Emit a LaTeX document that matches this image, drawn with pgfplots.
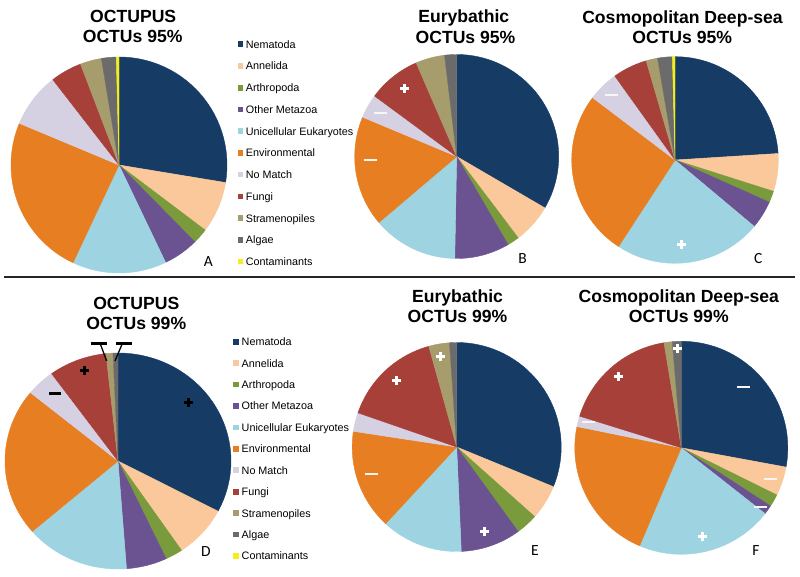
\documentclass[border=0pt]{standalone}
\usepackage{pgfplots}
\usepackage{pgfplotstable}
\pgfplotsset{compat=1.18}
\usepackage{fontspec}
\setmainfont{Liberation Sans}
\newfontfamily\labelfont{Carlito}

\definecolor{cNematoda}{RGB}{22,60,102}
\definecolor{cAnnelida}{RGB}{250,200,155}
\definecolor{cArthropoda}{RGB}{122,155,60}
\definecolor{cOtherMetazoa}{RGB}{107,82,145}
\definecolor{cUnicellular}{RGB}{158,211,226}
\definecolor{cEnvironmental}{RGB}{232,126,34}
\definecolor{cNoMatch}{RGB}{213,208,226}
\definecolor{cFungi}{RGB}{168,64,58}
\definecolor{cStramenopiles}{RGB}{166,156,108}
\definecolor{cAlgae}{RGB}{107,107,107}
\definecolor{cContaminants}{RGB}{245,238,26}

% percentages of OCTUs per category
\pgfplotstableread{
cat val
Nematoda 27.6
Annelida 7.7
Arthropoda 2.3
OtherMetazoa 5.3
Unicellular 14.1
Environmental 24.3
NoMatch 8.2
Fungi 4.7
Stramenopiles 3.2
Algae 2.2
Contaminants 0.4
}\tabA
\pgfplotstableread{
cat val
Nematoda 33.4
Annelida 6.3
Arthropoda 1.9
OtherMetazoa 8.7
Unicellular 13.5
Environmental 17.5
NoMatch 3.8
Fungi 8.4
Stramenopiles 4.6
Algae 1.9
}\tabB
\pgfplotstableread{
cat val
Nematoda 24.0
Annelida 5.9
Arthropoda 1.8
OtherMetazoa 4.4
Unicellular 23.1
Environmental 26.1
NoMatch 4.8
Fungi 5.4
Stramenopiles 1.8
Algae 2.3
Contaminants 0.4
}\tabC
\pgfplotstableread{
cat val
Nematoda 32.7
Annelida 7.8
Arthropoda 2.5
OtherMetazoa 5.8
Unicellular 14.9
Environmental 22.2
NoMatch 4.1
Fungi 8.3
Stramenopiles 1.0
Algae 0.7
}\tabD
\pgfplotstableread{
cat val
Nematoda 31.2
Annelida 5.4
Arthropoda 3.4
OtherMetazoa 9.3
Unicellular 12.6
Environmental 15.5
NoMatch 2.9
Fungi 15.4
Stramenopiles 3.2
Algae 1.1
}\tabE
\pgfplotstableread{
cat val
Nematoda 27.9
Annelida 4.4
Arthropoda 1.9
OtherMetazoa 1.4
Unicellular 20.8
Environmental 21.8
NoMatch 1.6
Fungi 17.6
Stramenopiles 1.25
Algae 1.35
}\tabF

\newcommand\drawpie[1]{%
  \gdef\piestart{0}%
  \pgfplotstablegetrowsof{#1}%
  \pgfmathtruncatemacro\pienrows{\pgfplotsretval-1}%
  \pgfplotsforeachungrouped \pierow in {0,...,\pienrows}{%
    \pgfplotstablegetelem{\pierow}{val}\of{#1}\let\pieval\pgfplotsretval
    \pgfplotstablegetelem{\pierow}{cat}\of{#1}\let\piecat\pgfplotsretval
    \pgfmathsetmacro\pieend{\piestart+3.6*\pieval}%
    \edef\pietmp{\noexpand\addplot[fill=c\piecat,draw=c\piecat,line width=0.4pt,domain=\piestart:\pieend,samples=60] ({sin(x)},{cos(x)}) -- (axis cs:0,0) -- cycle;}%
    \pietmp
    \xdef\piestart{\pieend}%
  }%
}

\pgfplotsset{mypie/.style={anchor=center, scale only axis, xmin=-1, xmax=1, ymin=-1, ymax=1, hide axis, clip=false}}

\newcommand\titlefont{\fontsize{17.6}{20}\selectfont\bfseries}
\newcommand\legfont{\fontsize{10.8}{12}\selectfont}
\newcommand\pmark[3][white]{\draw[#1,line width=3pt] (#2-4.5,#3) -- (#2+4.5,#3) (#2,#3-4.5) -- (#2,#3+4.5);}
\newcommand\mmark[3][white!93!gray]{\draw[#1,line width=2.2pt] (#2-6.5,#3) -- (#2+6.5,#3);}

\begin{document}
\begin{tikzpicture}
\useasboundingbox (0,0) rectangle (800pt,-577pt);

\begin{axis}[mypie, at={(119pt,-165pt)}, width=216pt, height=216pt]
\drawpie{\tabA}
\end{axis}
\begin{axis}[mypie, at={(456.7pt,-156.5pt)}, width=204pt, height=204pt]
\drawpie{\tabB}
\end{axis}
\begin{axis}[mypie, at={(675pt,-160pt)}, width=206.6pt, height=206.6pt]
\drawpie{\tabC}
\end{axis}
\begin{axis}[mypie, at={(118pt,-461pt)}, width=226pt, height=216pt]
\drawpie{\tabD}
\end{axis}
\begin{axis}[mypie, at={(456.7pt,-447pt)}, width=209pt, height=209pt]
\drawpie{\tabE}
\end{axis}
\begin{axis}[mypie, at={(681.3pt,-447.8pt)}, width=213pt, height=213pt]
\drawpie{\tabF}
\end{axis}

\begin{scope}[x=1pt,y=-1pt]
% separator
\draw[line width=2.6pt, black!85] (4,277) -- (795,277);

% titles
\node[font=\titlefont, anchor=base, inner sep=0] at (133.2,22.7) {OCTUPUS};
\node[font=\titlefont, anchor=base, inner sep=0] at (132.7,42.7) {OCTUs 95\%};
\node[font=\titlefont, anchor=base, inner sep=0] at (463.8,23) {Eurybathic};
\node[font=\titlefont, anchor=base, inner sep=0] at (465.5,43.3) {OCTUs 95\%};
\node[font=\titlefont, anchor=base, inner sep=0] at (682.5,23.5) {Cosmopolitan Deep-sea};
\node[font=\titlefont, anchor=base, inner sep=0] at (682.2,43.3) {OCTUs 95\%};
\node[font=\titlefont, anchor=base, inner sep=0] at (136.3,309) {OCTUPUS};
\node[font=\titlefont, anchor=base, inner sep=0] at (136.3,329.3) {OCTUs 99\%};
\node[font=\titlefont, anchor=base, inner sep=0] at (457.5,302.7) {Eurybathic};
\node[font=\titlefont, anchor=base, inner sep=0] at (457.5,322.7) {OCTUs 99\%};
\node[font=\titlefont, anchor=base, inner sep=0] at (678.8,302.7) {Cosmopolitan Deep-sea};
\node[font=\titlefont, anchor=base, inner sep=0] at (678.8,322.7) {OCTUs 99\%};

% legends
\foreach \n/\c [count=\i from 0] in {Nematoda/cNematoda, Annelida/cAnnelida, Arthropoda/cArthropoda, Other Metazoa/cOtherMetazoa, Unicellular Eukaryotes/cUnicellular, Environmental/cEnvironmental, No Match/cNoMatch, Fungi/cFungi, Stramenopiles/cStramenopiles, Algae/cAlgae, Contaminants/cContaminants}{
  \fill[\c] (237.7,44.3+21.73*\i-2.8) rectangle ++(5.6,5.6);
  \node[font=\legfont, anchor=base west, inner sep=0] at (245.7,44.3+21.73*\i+3.9) {\n};
  \fill[\c] (233.2,341.7+21.43*\i-2.8) rectangle ++(5.6,5.6);
  \node[font=\legfont, anchor=base west, inner sep=0] at (241.5,341.7+21.43*\i+3.9) {\n};
}

% panel labels
\foreach \l/\x/\y in {A/208.3/262, B/522.7/259, C/758.3/259, D/206/552, E/535/551, F/756/551}{
  \node[font=\labelfont\fontsize{15.5}{16}\selectfont, inner sep=0] at (\x,\y) {\l};
}

% significance marks
\pmark{404.3}{88.3}
\mmark{380}{113.3}
\mmark{370}{160}
\mmark{611.7}{95}
\pmark{681.7}{245}
\pmark[black]{188.3}{402.7}
\pmark[black]{84.3}{370}
\draw[black,line width=2.4pt] (49,393.3) -- (61,393.3);
\draw[black,line width=2.4pt] (90.7,343.3) -- (106.7,343.3) (116,343.3) -- (131.7,343.3);
\draw[black,line width=1.3pt] (100.7,345) -- (106.7,361) (121.7,345) -- (115,361);
\pmark{440}{356.7}
\pmark{396.7}{380}
\mmark{371}{474}
\pmark{484.3}{531.7}
\pmark{677.3}{348.3}
\pmark{618.3}{376.7}
\mmark{743.3}{386.7}
\mmark{588.3}{421.7}
\mmark{770}{479.3}
\mmark{760}{506.7}
\pmark{702.3}{536.7}
\end{scope}
\end{tikzpicture}
\end{document}
